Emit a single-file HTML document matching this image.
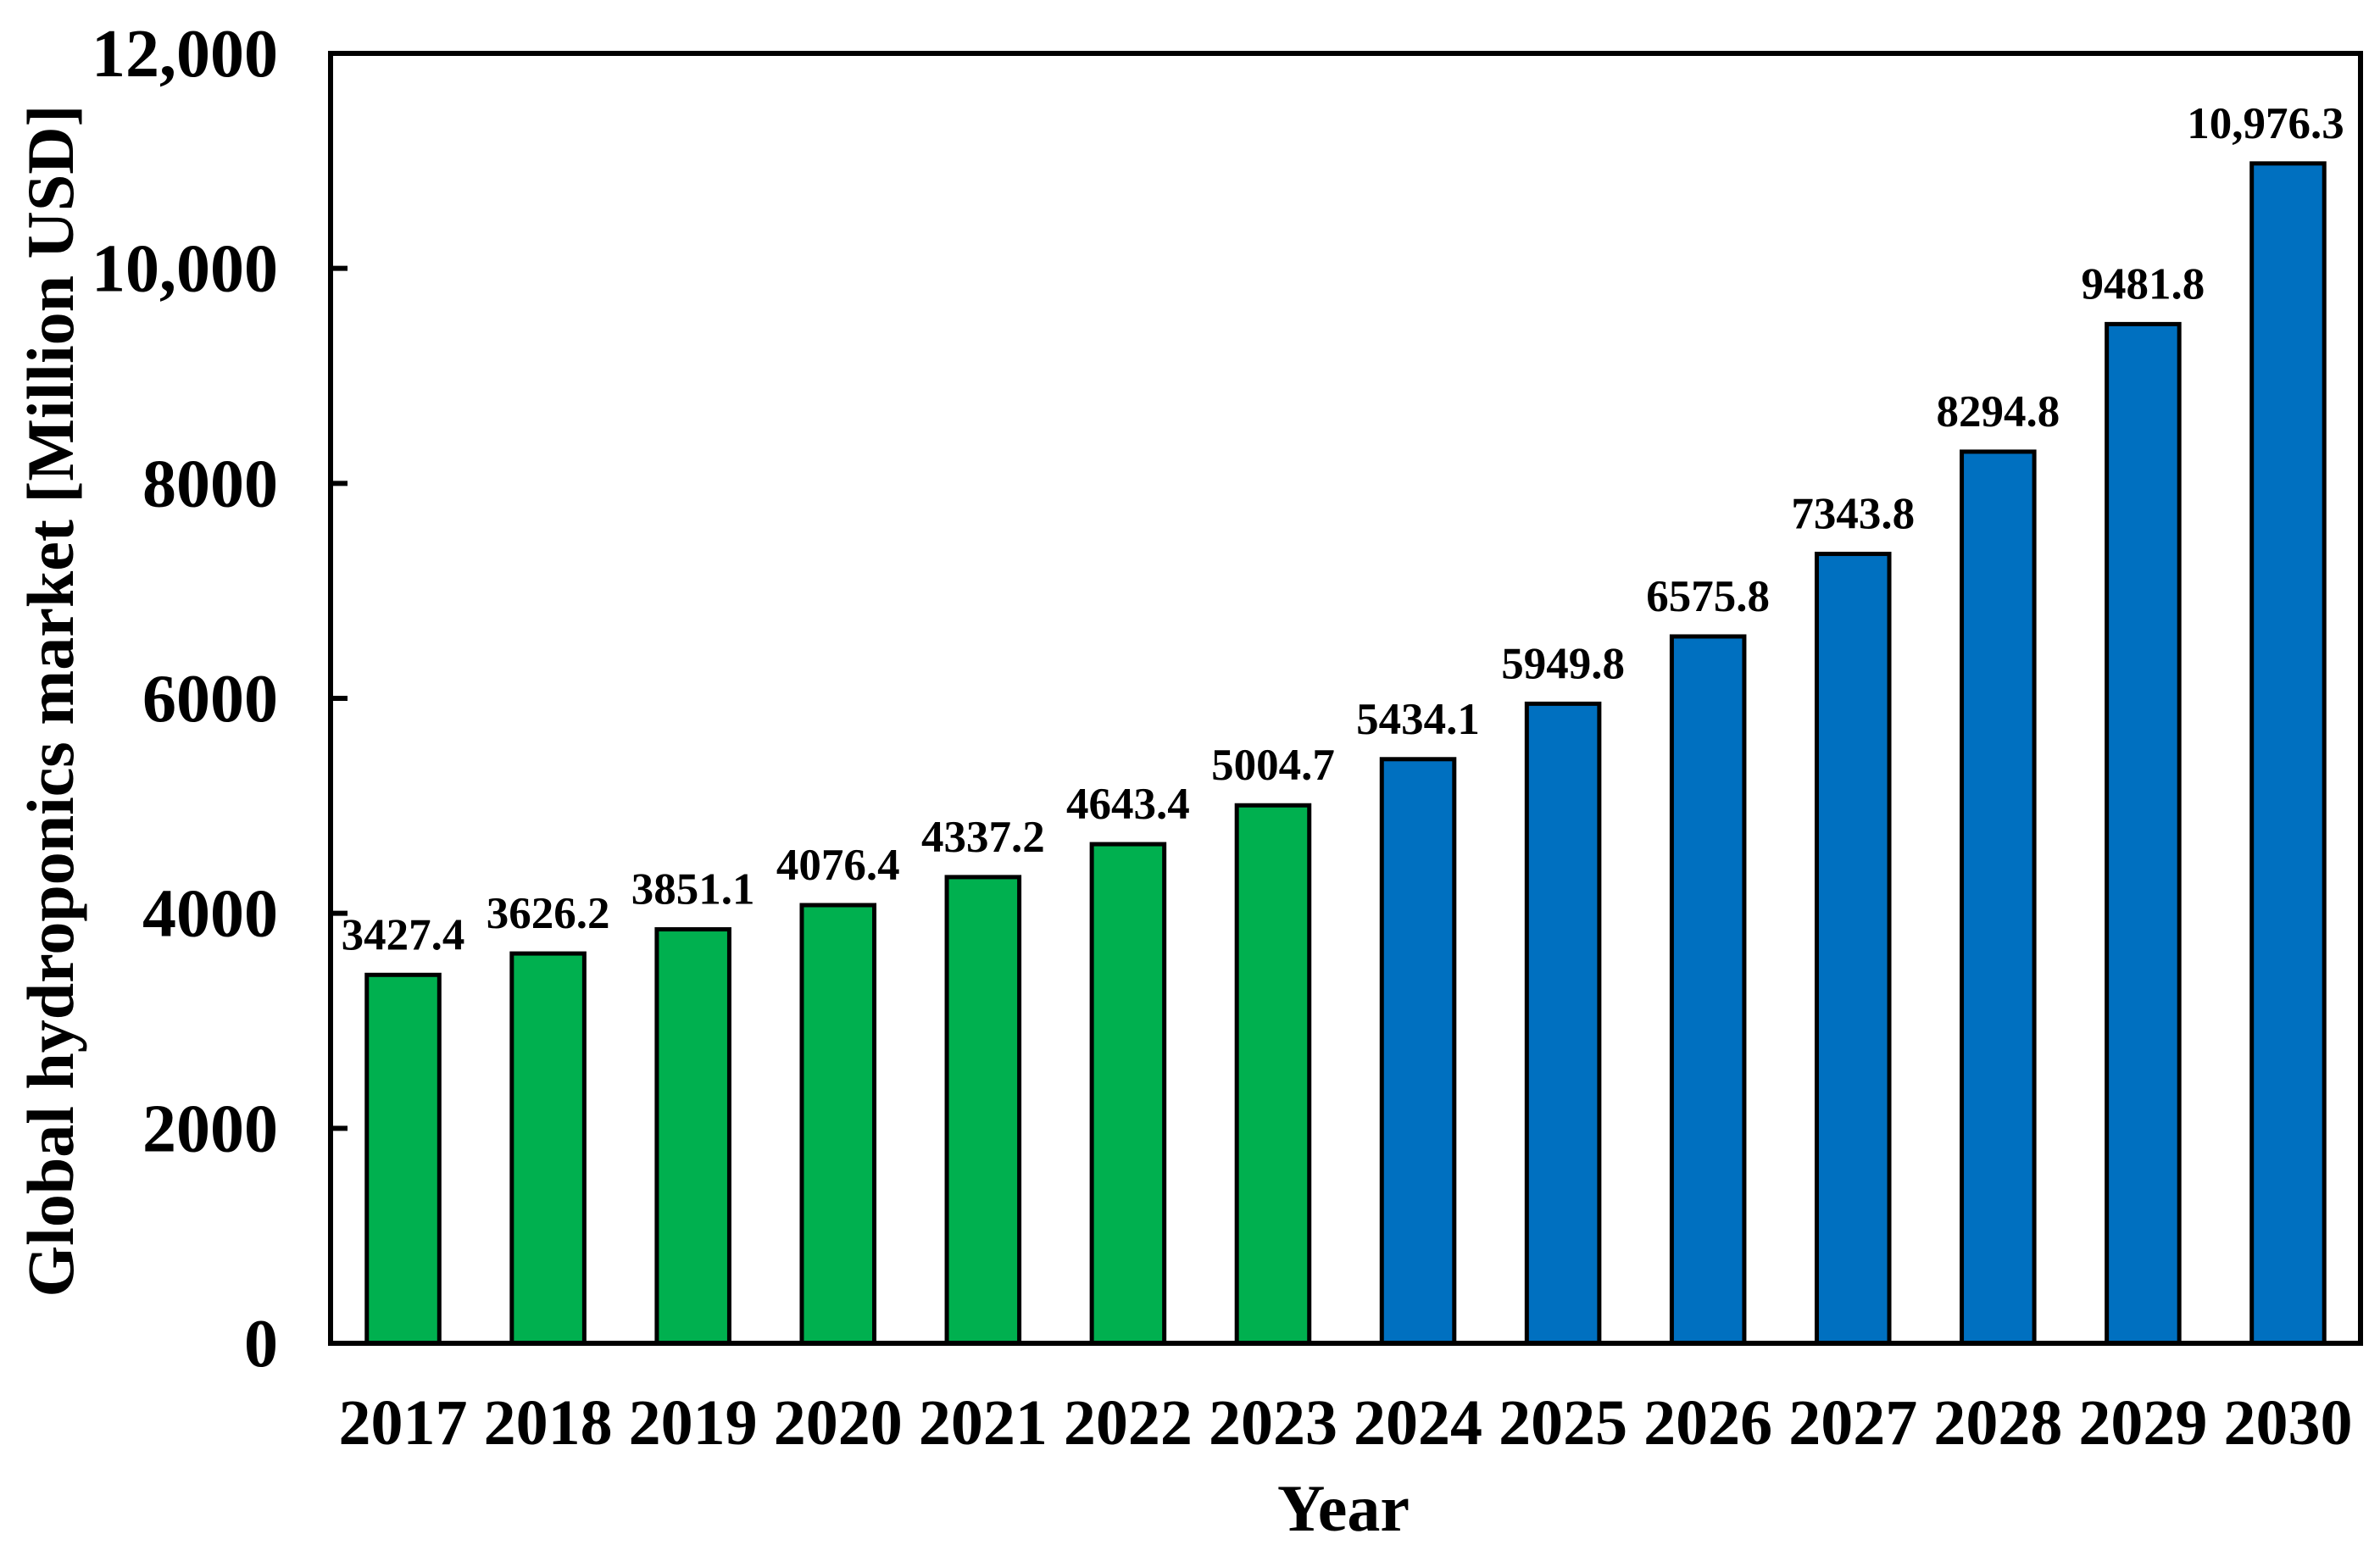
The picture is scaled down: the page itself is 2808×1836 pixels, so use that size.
<!DOCTYPE html>
<html><head><meta charset="utf-8"><style>
html,body{margin:0;padding:0;background:#fff;}
svg text{font-family:"Liberation Serif",serif;font-weight:bold;fill:#000;}
</style></head><body>
<svg id="chart" width="2808" height="1831" viewBox="0 0 2808 1831" xmlns="http://www.w3.org/2000/svg">
<rect width="2808" height="1831" fill="#fff"/>
<g id="bars"></g>
<g id="labels"></g>
<g id="yticks"></g>
<g id="xticks"></g>
<rect x="390" y="63" width="2395" height="1522" fill="none" stroke="#000" stroke-width="6"/>
<text x="1585" y="1806" font-size="78" text-anchor="middle">Year</text>
<text transform="translate(86,827) rotate(-90)" font-size="78" text-anchor="middle">Global hydroponics market [Million USD]</text>
</svg>
<script>
const categories=["2017","2018","2019","2020","2021","2022","2023","2024","2025","2026","2027","2028","2029","2030"];
const values=[3427.4,3626.2,3851.1,4076.4,4337.2,4643.4,5004.7,5434.1,5949.8,6575.8,7343.8,8294.8,9481.8,10976.3];
const valueLabels=["3427.4","3626.2","3851.1","4076.4","4337.2","4643.4","5004.7","5434.1","5949.8","6575.8","7343.8","8294.8","9481.8","10,976.3"];
const forecastStart=7;
const yTicks=[0,2000,4000,6000,8000,10000,12000];
const yTickLabels=["0","2000","4000","6000","8000","10,000","12,000"];
const NS="http://www.w3.org/2000/svg";
const L=390,R=2785,T=63,B=1585,yMax=12000;
const band=(R-L)/categories.length;
function xc(i){return L+band*(i+0.5);}
function y(v){return B-(v/yMax)*(B-T);}
const bw=band*0.5;
const gb=document.getElementById('bars'),gl=document.getElementById('labels'),gy=document.getElementById('yticks'),gx=document.getElementById('xticks');
function mk(t,a){const e=document.createElementNS(NS,t);for(const k in a)e.setAttribute(k,a[k]);return e;}
categories.forEach((c,i)=>{
  const r=mk('rect',{x:xc(i)-bw/2,y:y(values[i]),width:bw,height:B-y(values[i]),fill:i<forecastStart?'#00B04F':'#0070C0',stroke:'#000','stroke-width':5});
  
  
  gb.appendChild(r);
  const lx=Math.min(xc(i),R-112);
  const t=mk('text',{x:lx,y:y(values[i])-30,'font-size':53,'text-anchor':'middle'});
  t.textContent=valueLabels[i];
  
  
  gl.appendChild(t);
  const xt=mk('text',{x:xc(i),y:1704,'font-size':76,'text-anchor':'middle'});
  xt.textContent=c;
  
  
  gx.appendChild(xt);
});
yTicks.forEach((v,i)=>{
  const ln=mk('line',{x1:L,x2:L+20,y1:y(v),y2:y(v),stroke:'#000','stroke-width':6});
  
  
  gy.appendChild(ln);
  const t=mk('text',{x:328,y:y(v)+27,'font-size':80,'text-anchor':'end'});
  t.textContent=yTickLabels[i];
  
  
  gy.appendChild(t);
});
</script>
</body></html>
